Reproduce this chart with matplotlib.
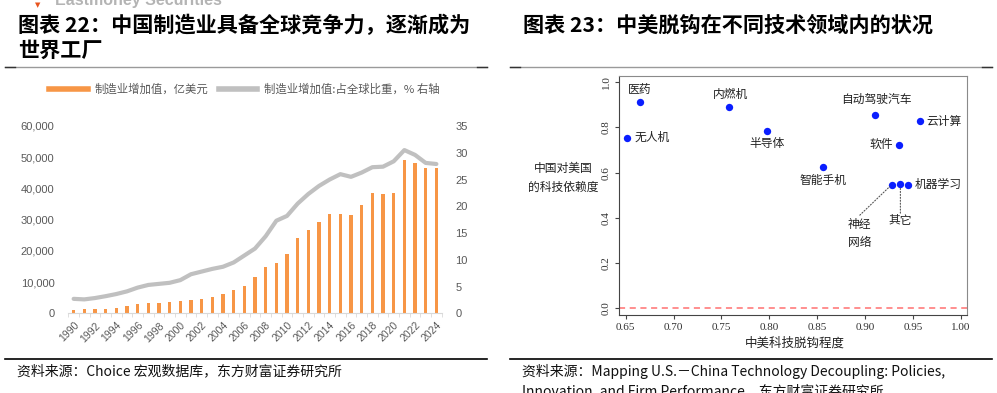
import matplotlib
matplotlib.use("Agg")
import matplotlib.pyplot as plt
from matplotlib.lines import Line2D

plt.rcParams["font.family"] = ["Noto Sans CJK SC", "DejaVu Sans"]

# ---------- data: left panel (图表 22) ----------
years = list(range(1990, 2025))
mfg_value = [1100, 1300, 1400, 1400, 1800, 2450, 2900, 3200, 3300, 3500,
             3850, 4250, 4600, 5300, 6300, 7400, 8850, 11500, 14800, 16050,
             19150, 24250, 26800, 29250, 31800, 31900, 31500, 34550, 38600, 38100,
             38500, 49050, 48300, 46500, 46500]
world_share = [2.7, 2.6, 2.85, 3.2, 3.6, 4.1, 4.8, 5.3, 5.5, 5.7,
               6.2, 7.3, 7.8, 8.3, 8.7, 9.5, 10.8, 12.1, 14.4, 17.3,
               18.2, 20.5, 22.3, 23.8, 25.0, 26.0, 25.5, 26.3, 27.3, 27.4,
               28.4, 30.5, 29.6, 28.1, 27.9]

# ---------- data: right panel (图表 23) ----------
techs = ["医药", "无人机", "内燃机", "半导体", "自动驾驶汽车", "云计算",
         "软件", "智能手机", "神经网络", "其它", "机器学习"]
decoupling = [0.665, 0.651, 0.758, 0.798, 0.9105, 0.958, 0.936, 0.856, 0.928, 0.937, 0.945]
dependence = [0.913, 0.755, 0.889, 0.786, 0.855, 0.827, 0.724, 0.624, 0.547, 0.550, 0.547]

ORANGE = "#f79646"
LGREY = "#c0c0c0"
TXT = "#595959"
W, H = 997, 393

fig = plt.figure(figsize=(W / 100, H / 100), dpi=100)


def fx(px):
    return px / W


def fy(py):
    return 1 - py / H


# ---------- page furniture ----------
# running header is cut off by the top edge in the original page
fig.text(fx(55), fy(5), "Eastmoney Securities", fontsize=11.5, fontweight="bold",
         color="#b4b4b4", family="Liberation Sans", va="baseline")
fig.text(fx(38), fy(5), "▼", fontsize=5, color="#e8541e", family="DejaVu Sans",
         ha="center", va="center")
fig.text(fx(18), fy(25), "图表 22：中国制造业具备全球竞争力，逐渐成为", fontsize=15.2,
         fontweight="bold", va="center")
fig.text(fx(18), fy(50), "世界工厂", fontsize=15.2, fontweight="bold", va="center")
fig.text(fx(523), fy(25), "图表 23：中美脱钩在不同技术领域内的状况", fontsize=15.2,
         fontweight="bold", va="center")

for x0, x1 in [(5, 487), (510, 992)]:
    fig.add_artist(Line2D([fx(x0), fx(x1)], [fy(66.5)] * 2, color="#9a9a9a", lw=1))
    fig.add_artist(Line2D([fx(x0), fx(x0 + 10)], [fy(66.5)] * 2, color="#333333", lw=1))
    fig.add_artist(Line2D([fx(x1 - 10), fx(x1)], [fy(66.5)] * 2, color="#333333", lw=1))
    fig.add_artist(Line2D([fx(x0), fx(x1)], [fy(358.5)] * 2, color="black", lw=1.2))

fig.text(fx(17), fy(371), "资料来源：Choice 宏观数据库，东方财富证券研究所", fontsize=10,
         va="center", color="#111111")
fig.text(fx(522), fy(371), "资料来源：Mapping U.S.－China Technology Decoupling: Policies,",
         fontsize=10, va="center", color="#111111")
fig.text(fx(522), fy(391), "Innovation, and Firm Performance，东方财富证券研究所",
         fontsize=10, va="center", color="#111111")

# ---------- left panel ----------
ax = fig.add_axes([fx(68.3), fy(313.3), fx(441.7) - fx(68.3), fy(126) - fy(313.3)])
x = list(range(len(years)))
ax.bar(x, mfg_value, width=0.32, color=ORANGE, zorder=2)
ax.set_xlim(-0.47, len(years) - 0.5)
ax.set_ylim(0, 60000)
ax.set_yticks(range(0, 60001, 10000))
ax.set_yticklabels([f"{v:,}" for v in range(0, 60001, 10000)])
for s in ["top", "left", "right"]:
    ax.spines[s].set_visible(False)
ax.spines["bottom"].set_color("#d9d9d9")
ax.tick_params(axis="y", length=0, pad=10, labelsize=8, labelcolor=TXT)
ax.set_xticks(x[::2])
ax.set_xticklabels([str(y) for y in years[::2]], rotation=45, ha="right",
                   rotation_mode="anchor")
ax.set_xticks([i - 0.5 for i in range(len(years) + 1)], minor=True)
ax.tick_params(axis="x", which="major", length=0, pad=5, labelsize=7.5, labelcolor=TXT)
ax.tick_params(axis="x", which="minor", length=3, color="#d9d9d9")
for lbl in ax.get_xticklabels() + ax.get_yticklabels():
    lbl.set_family("Liberation Sans")

ax2 = ax.twinx()
ax2.plot(x, world_share, color=LGREY, lw=3, solid_capstyle="round")
ax2.set_ylim(0, 35)
ax2.set_yticks(range(0, 36, 5))
for s in ["top", "left", "right", "bottom"]:
    ax2.spines[s].set_visible(False)
ax2.tick_params(axis="y", length=0, pad=10, labelsize=8, labelcolor=TXT)
for lbl in ax2.get_yticklabels():
    lbl.set_family("Liberation Sans")

handles = [Line2D([], [], color=ORANGE, lw=4), Line2D([], [], color=LGREY, lw=4)]
fig.legend(handles, ["制造业增加值，亿美元", "制造业增加值:占全球比重，% 右轴"],
           loc="center left", bbox_to_anchor=(fx(49), fy(89)), ncol=2, frameon=False,
           fontsize=8.2, labelcolor=TXT, handlelength=3.4, handletextpad=0.6,
           columnspacing=0.9, borderpad=0, borderaxespad=0)

# ---------- right panel ----------
bx = fig.add_axes([fx(619.3), fy(315), fx(966.7) - fx(619.3), fy(75.7) - fy(315)])
bx.scatter(decoupling, dependence, s=28, color="#0a1eff", zorder=3, linewidths=0)
bx.axhline(0, color="#ff7070", lw=1.1, ls=(0, (4, 3)))
bx.set_xlim(0.6433, 1.0063)
bx.set_ylim(-0.03, 1.029)
bx.set_xticks([0.65, 0.70, 0.75, 0.80, 0.85, 0.90, 0.95, 1.00])
bx.set_xticklabels([f"{v:.2f}" for v in bx.get_xticks()])
bx.set_yticks([0.0, 0.2, 0.4, 0.6, 0.8, 1.0])
bx.set_yticklabels([f"{v:.1f}" for v in bx.get_yticks()], rotation=90, va="center")
for s in ["left", "bottom"]:
    bx.spines[s].set_color("#444444")
for s in ["top", "right"]:
    bx.spines[s].set_color("#8a8a8a")
bx.tick_params(length=3, color="#444444", labelsize=8, labelcolor="#333333", pad=3)
for lbl in bx.get_xticklabels() + bx.get_yticklabels():
    lbl.set_family("Liberation Serif")

# label offsets in points: (dx, dy, ha)
offsets = {
    "医药": (0, 9, "center"), "无人机": (6, 0, "left"), "内燃机": (1, 9, "center"),
    "半导体": (0, -9, "center"), "自动驾驶汽车": (1, 11, "center"), "云计算": (4.6, 0, "left"),
    "软件": (-4.6, 0, "right"), "智能手机": (0, -9.6, "center"), "机器学习": (4.8, 0, "left"),
}
for name, xv, yv in zip(techs, decoupling, dependence):
    if name in offsets:
        dx, dy, ha = offsets[name]
        bx.annotate(name, (xv, yv), xytext=(dx, dy), textcoords="offset points",
                    ha=ha, va="center", fontsize=8.5, color="#222222")

i_nn = techs.index("神经网络")
bx.annotate("", (decoupling[i_nn], dependence[i_nn]), xytext=(-23, -22),
            textcoords="offset points",
            arrowprops=dict(arrowstyle="-", ls=":", lw=0.8, color="#555555",
                            shrinkA=0, shrinkB=2))
bx.annotate("神经\n网络", (decoupling[i_nn], dependence[i_nn]), xytext=(-23, -35),
            textcoords="offset points", ha="center", va="center", fontsize=8.5,
            color="#222222", linespacing=1.5)
i_ot = techs.index("其它")
bx.annotate("", (decoupling[i_ot], dependence[i_ot]), xytext=(0, -21),
            textcoords="offset points",
            arrowprops=dict(arrowstyle="-", ls=":", lw=0.8, color="#555555",
                            shrinkA=0, shrinkB=2))
bx.annotate("其它", (decoupling[i_ot], dependence[i_ot]), xytext=(0, -26),
            textcoords="offset points", ha="center", va="center", fontsize=8.5,
            color="#222222")

fig.text(fx(563), fy(178), "中国对美国\n的科技依赖度", fontsize=8.5, ha="center",
         va="center", linespacing=1.6, color="#222222")
fig.text(fx(795), fy(343), "中美科技脱钩程度", fontsize=9, ha="center", va="center",
         color="#222222")

fig.savefig("out.png", dpi=100)
